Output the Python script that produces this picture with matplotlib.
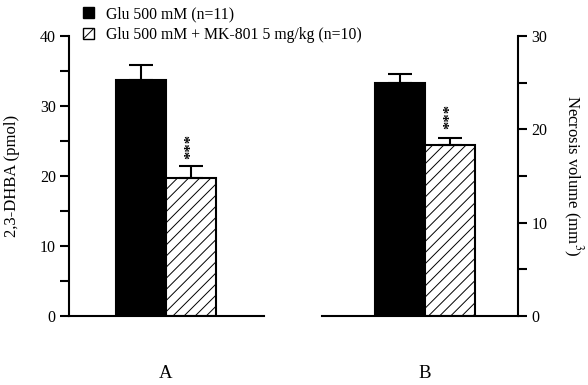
import numpy as np
import matplotlib
matplotlib.use('Agg')
import matplotlib.pyplot as plt
from matplotlib.patches import Patch

plt.rcParams.update({
    'font.family': 'Liberation Serif',
    'font.size': 10,
    'hatch.linewidth': 0.7,
    'axes.linewidth': 1.5,
    'mathtext.fontset': 'stix',
})

groups = ['Glu 500 mM (n=11)', 'Glu 500 mM + MK-801 5 mg/kg (n=10)']

# panel A: 2,3-DHBA (pmol)
dhba_mean = [33.7, 19.7]
dhba_sem = [2.2, 1.8]

# panel B: necrosis volume (mm3)
necro_mean = [25.0, 18.3]
necro_sem = [0.9, 0.8]

fig = plt.figure(figsize=(5.88, 3.85), dpi=100)
axA = fig.add_axes([69 / 588, 69 / 385, 195 / 588, 280 / 385])
axB = fig.add_axes([322 / 588, 69 / 385, 196 / 588, 280 / 385])

styles = [dict(color='black', edgecolor='black'),
          dict(color='white', edgecolor='black', hatch='///')]


def panel(ax, means, sems, ymax, step, star_y, letter, side):
    x = np.arange(len(means))
    for i in range(len(means)):
        ax.bar(x[i], means[i], width=1.0, linewidth=1.5, **styles[i], zorder=2)
        ax.errorbar(x[i], means[i], yerr=[[0], [sems[i]]], fmt='none',
                    ecolor='black', elinewidth=1.5, capsize=8.5, capthick=1.5, zorder=3)
    ax.text(x[1], star_y, '***', rotation=90, ha='center', va='bottom',
            fontsize=12, fontweight='bold')
    ax.set_ylim(0, ymax)
    ax.set_yticks(np.arange(0, ymax + 1, step * 2))
    ax.set_yticks(np.arange(step, ymax, step * 2), minor=True)
    ax.set_xticks([])
    for s in ['top', 'left', 'right']:
        ax.spines[s].set_visible(False)
    ax.spines[side].set_visible(True)
    ax.yaxis.set_ticks_position(side)
    ax.tick_params(axis='y', which='both', direction='out', length=6.5, width=1.5, pad=3,
                   labelsize=11.5)
    ax.text(0.5, -0.205, letter, transform=ax.get_xaxis_transform(),
            ha='center', va='center', fontsize=13.5)


panel(axA, dhba_mean, dhba_sem, 40, 5, 22.4, 'A', 'left')
axA.set_xlim(-1.44, 2.46)
axA.set_ylabel('2,3-DHBA (pmol)', fontsize=12, labelpad=14)

panel(axB, necro_mean, necro_sem, 30, 5, 20.0, 'B', 'right')
axB.set_xlim(-1.56, 2.36)
axB.yaxis.set_label_position('right')
axB.set_ylabel('Necrosis volume (mm$^3$)', fontsize=12, rotation=-90, labelpad=27)

handles = [Patch(facecolor='black', edgecolor='black', linewidth=1),
           Patch(facecolor='white', edgecolor='black', hatch='///', linewidth=1)]
fig.legend(handles, groups, loc='upper left', bbox_to_anchor=(75 / 588, 1.005),
           frameon=False, fontsize=11.3, handlelength=0.7, handleheight=0.7,
           handletextpad=0.75, labelspacing=0.3, borderaxespad=0.1)

fig.savefig('out.png', dpi=100)
